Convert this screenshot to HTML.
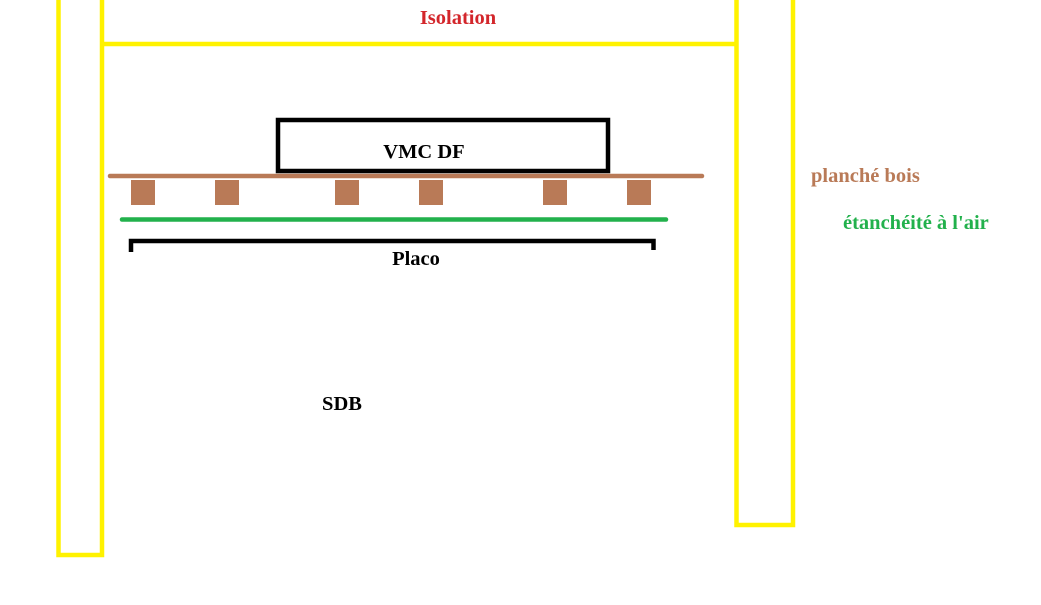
<!DOCTYPE html>
<html><head><meta charset="utf-8"><style>
body{margin:0;background:#fff;}
</style></head><body>
<svg width="1041" height="605" xmlns="http://www.w3.org/2000/svg" style="display:block">
<rect width="1041" height="605" fill="#fff"/>
<g fill="none" stroke="#fff200" stroke-width="4.5">
<rect x="58.5" y="-5" width="43.5" height="560"/>
<rect x="736.5" y="-5" width="56.5" height="530"/>
<line x1="102" y1="44" x2="736" y2="44"/>
</g>
<rect x="278" y="120" width="330" height="51" fill="none" stroke="#000" stroke-width="4.5"/>
<line x1="110" y1="176" x2="702" y2="176" stroke="#b97a57" stroke-width="4.5" stroke-linecap="round"/>
<g fill="#b97a57">
<rect x="131" y="180" width="24" height="25"/>
<rect x="215" y="180" width="24" height="25"/>
<rect x="335" y="180" width="24" height="25"/>
<rect x="419" y="180" width="24" height="25"/>
<rect x="543" y="180" width="24" height="25"/>
<rect x="627" y="180" width="24" height="25"/>
</g>
<line x1="122" y1="219.5" x2="666" y2="219.5" stroke="#22b14c" stroke-width="4.5" stroke-linecap="round"/>
<path d="M131 252 V241 H653.5 V250" fill="none" stroke="#000" stroke-width="4.5"/>
<g font-family="Liberation Serif, serif" font-weight="bold" font-size="20.5">
<text x="458" y="24" fill="#d3262b" text-anchor="middle">Isolation</text>
<text x="424" y="158" fill="#000" text-anchor="middle">VMC DF</text>
<text x="811" y="182" fill="#b97a57">planché bois</text>
<text x="843" y="229" fill="#22b14c">étanchéité à l'air</text>
<text x="416" y="265" fill="#000" text-anchor="middle">Placo</text>
<text x="342" y="410" fill="#000" text-anchor="middle">SDB</text>
</g>
</svg>
</body></html>
